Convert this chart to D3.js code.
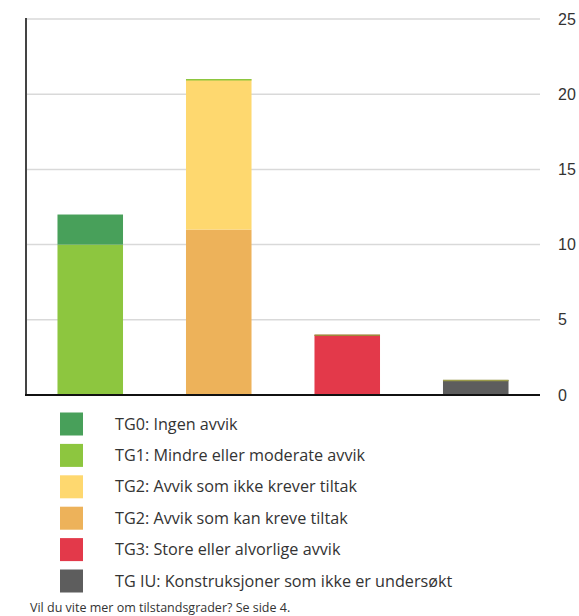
<!DOCTYPE html>
<html lang="no">
<head>
    <meta charset="UTF-8">
    <title>Tilstandsgrader</title>
    <script src="https://d3js.org/d3.v7.min.js"></script>
    <style>
        body {
            margin: 0;
            background: #fff;
            font-family: "Open Sans", Arial, sans-serif;
        }
        .tick text {
            font-size: 16px;
            fill: #333;
        }
        .legend text {
            font-size: 16.2px;
            fill: #333;
        }
        .note {
            font-size: 12.5px;
            fill: #333;
        }
    </style>
</head>
<body>
    <svg id="chart"></svg>

    <script>
        // data
        var columns = ["A", "B", "C", "D"];
        var seriesKeys = ["TG0", "TG1", "TG2a", "TG2b", "TG3", "TGIU"];
        var seriesLabels = [
            "TG0: Ingen avvik",
            "TG1: Mindre eller moderate avvik",
            "TG2: Avvik som ikke krever tiltak",
            "TG2: Avvik som kan kreve tiltak",
            "TG3: Store eller alvorlige avvik",
            "TG IU: Konstruksjoner som ikke er undersøkt"
        ];
        // stacked bottom-up: TG1, TG0, TG2b, TG2a, TG3, TGIU
        var tg0  = [2, 0, 0, 0];
        var tg1  = [10, 0, 0, 0];
        var tg2a = [0, 10, 0, 0];
        var tg2b = [0, 11, 0, 0];
        var tg3  = [0, 0, 4, 0];
        var tgiu = [0, 0, 0, 1];
        var yTicks = [0, 5, 10, 15, 20, 25];
        var footnote = "Vil du vite mer om tilstandsgrader? Se side 4.";

        var colors = {
            TG0: "#48a05a",
            TG1: "#8dc63f",
            TG2a: "#fed86f",
            TG2b: "#edb25a",
            TG3: "#e3394a",
            TGIU: "#5d5d5d"
        };
        var stackOrder = ["TG1", "TG0", "TG2b", "TG2a", "TG3", "TGIU"];

        var table = columns.map(function(c, i) {
            return {
                col: c,
                TG0: tg0[i], TG1: tg1[i], TG2a: tg2a[i],
                TG2b: tg2b[i], TG3: tg3[i], TGIU: tgiu[i]
            };
        });

        var W = 579, H = 616;
        var plotLeft = 26, plotRight = 540, plotTop = 19, plotBottom = 395;

        var svg = d3.select("#chart").attr("width", W).attr("height", H);

        var x = d3.scaleBand().domain(columns).range([plotLeft, plotRight]).paddingInner(0.49).paddingOuter(0.245);
        var y = d3.scaleLinear().domain([0, 25]).range([plotBottom, plotTop]);

        // gridlines
        svg.append("g")
            .selectAll("line")
            .data(yTicks.filter(function(d) { return d > 0; }))
            .enter().append("line")
            .attr("x1", plotLeft).attr("x2", plotRight)
            .attr("y1", function(d) { return y(d); })
            .attr("y2", function(d) { return y(d); })
            .attr("stroke", "#d9d9d9")
            .attr("stroke-width", 1.5);

        // right axis labels
        var yAxis = d3.axisRight(y).tickValues(yTicks).tickSize(0).tickPadding(18);
        svg.append("g")
            .attr("transform", "translate(" + plotRight + ",0)")
            .call(yAxis)
            .call(g => g.select(".domain").remove());

        // bars
        var stack = d3.stack().keys(stackOrder);
        var layers = stack(table);

        svg.append("g")
            .selectAll("g")
            .data(layers)
            .enter().append("g")
            .attr("fill", function(d) { return colors[d.key]; })
            .selectAll("rect")
            .data(function(d) { return d; })
            .enter().append("rect")
            .attr("x", function(d) { return x(d.data.col); })
            .attr("y", function(d) { return y(d[1]); })
            .attr("width", x.bandwidth())
            .attr("height", function(d) { return y(d[0]) - y(d[1]); });

        // thin edge that the original shows on top of some stacks
        var edgeColors = [null, "#8dc63f", "#9c8a3a", "#9a9a4a"];
        function stackTop(d) {
            return y(d3.sum(stackOrder, function(k) { return d[k]; })) + 0.5;
        }
        svg.append("g")
            .selectAll("line")
            .data(table.filter(function(d, i) { return edgeColors[i]; }))
            .enter().append("line")
            .attr("x1", function(d) { return x(d.col); })
            .attr("x2", function(d) { return x(d.col) + x.bandwidth(); })
            .attr("y1", stackTop)
            .attr("y2", stackTop)
            .attr("stroke", function(d) { return edgeColors[columns.indexOf(d.col)]; })
            .attr("stroke-width", 1.5);

        // axes lines
        svg.append("line")
            .attr("x1", plotLeft).attr("x2", plotLeft)
            .attr("y1", plotTop - 1).attr("y2", plotBottom)
            .attr("stroke", "#444").attr("stroke-width", 2);
        svg.append("line")
            .attr("x1", plotLeft - 1).attr("x2", plotRight)
            .attr("y1", plotBottom).attr("y2", plotBottom)
            .attr("stroke", "#111").attr("stroke-width", 2);

        // legend
        var ly = d3.scalePoint().domain(seriesKeys).range([424, 581]);
        var legend = svg.append("g").attr("class", "legend")
            .selectAll("g")
            .data(seriesKeys)
            .enter().append("g")
            .attr("transform", function(d) { return "translate(0," + ly(d) + ")"; });
        legend.append("rect")
            .attr("x", 60).attr("y", -11.5)
            .attr("width", 23).attr("height", 23)
            .attr("fill", function(d) { return colors[d]; });
        legend.append("text")
            .attr("x", 115).attr("dy", "0.35em")
            .text(function(d, i) { return seriesLabels[i]; });

        svg.append("text")
            .attr("class", "note")
            .attr("x", 30).attr("y", 612)
            .text(footnote);
    </script>
</body>
</html>
